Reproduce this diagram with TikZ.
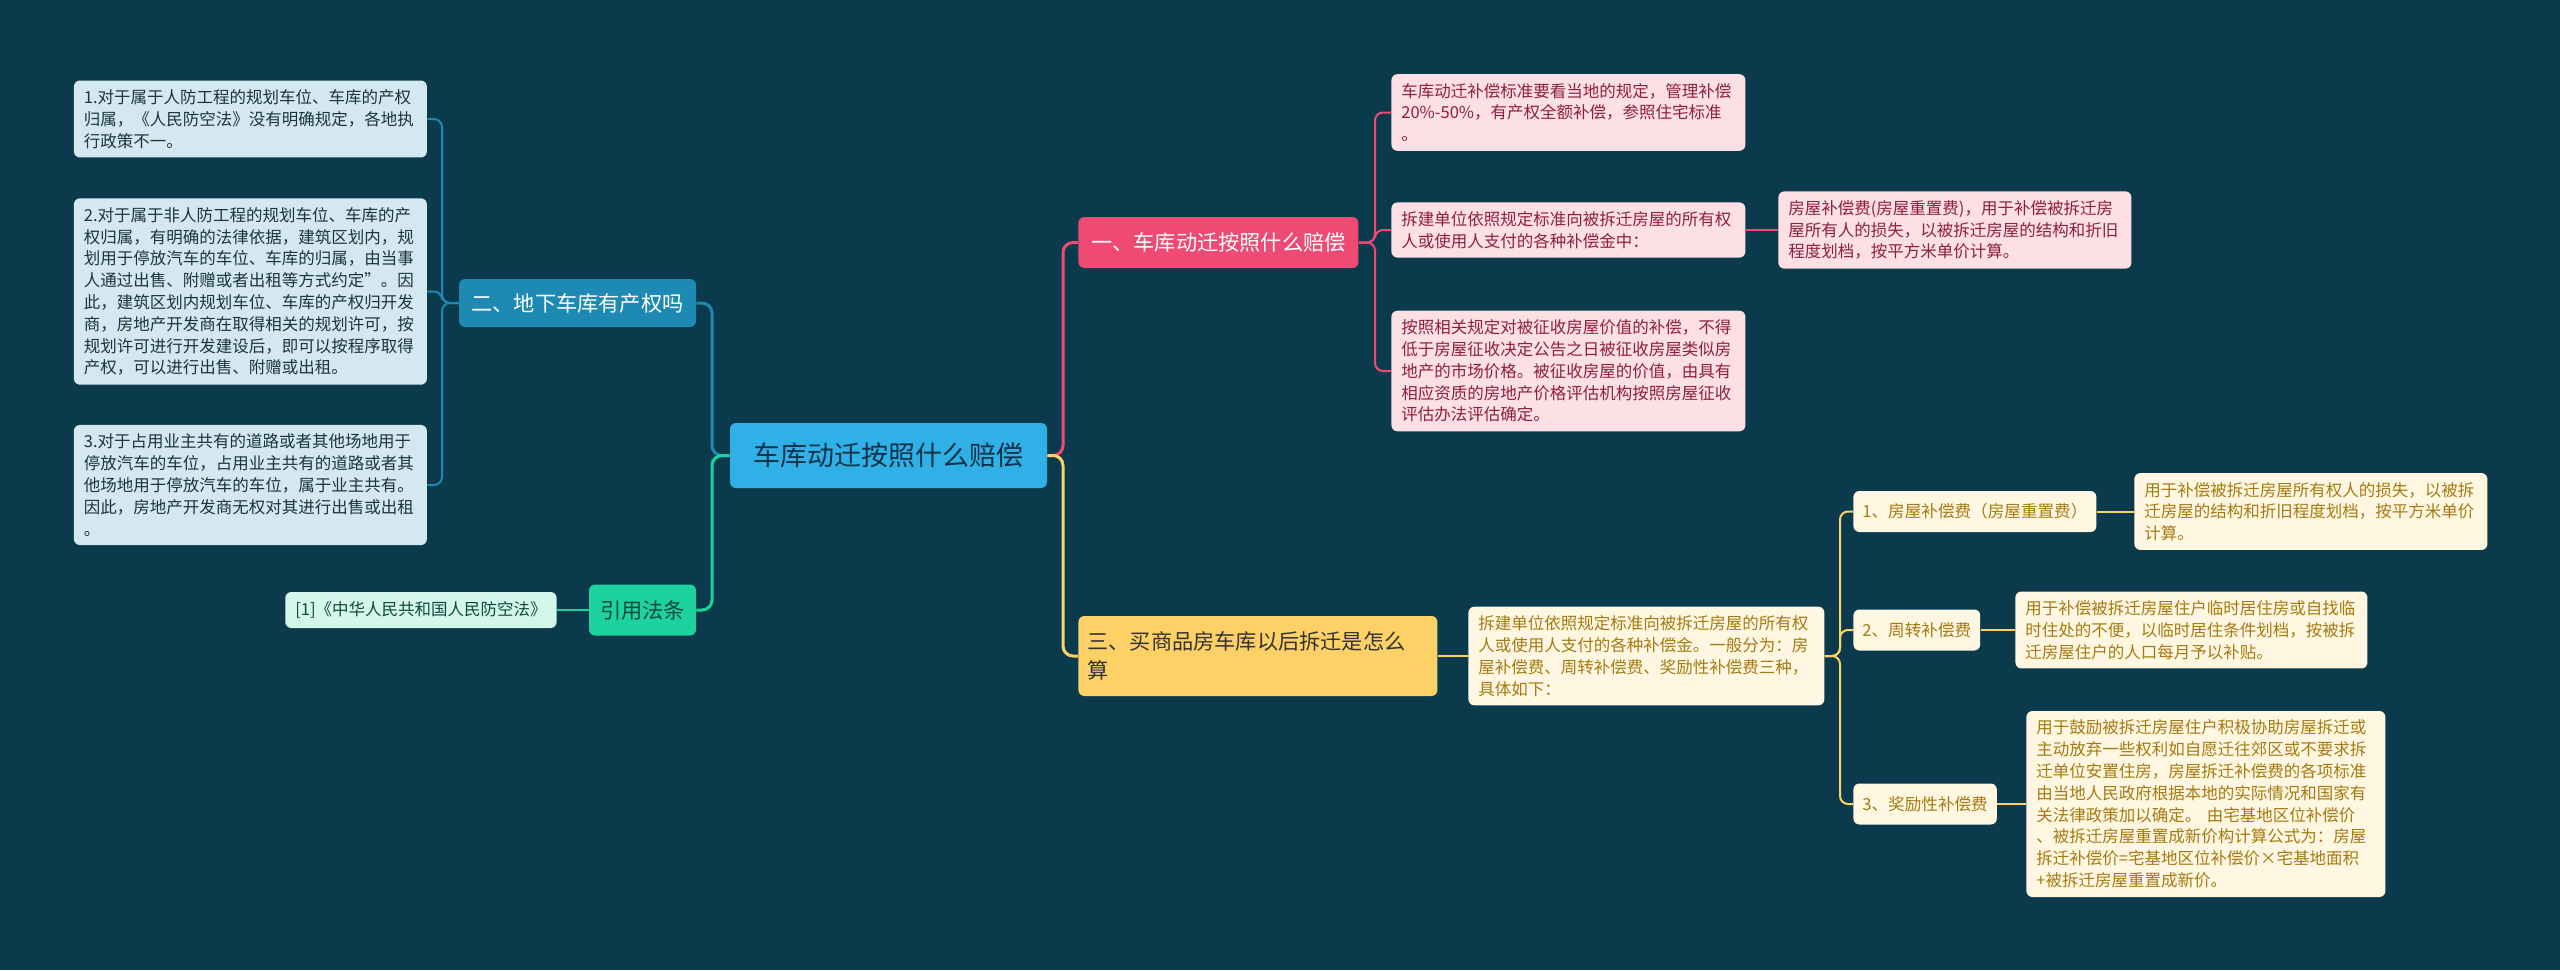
\documentclass[tikz,border=0pt]{standalone}
\usepackage{fontspec}
\setmainfont{Noto Sans CJK SC}
\definecolor{bgc}{HTML}{0A3A4C}
\definecolor{rootc}{HTML}{2FB0E6}
\definecolor{roottxt}{HTML}{0E3348}
\definecolor{bluec}{HTML}{1E8AB3}
\definecolor{blueleaf}{HTML}{D4E8EF}
\definecolor{bluetxt}{HTML}{1A3440}
\definecolor{greenc}{HTML}{1ED2A0}
\definecolor{greenleaf}{HTML}{D5F6EB}
\definecolor{greentxt}{HTML}{0B4A3B}
\definecolor{pinkc}{HTML}{EE4A73}
\definecolor{pinkleaf}{HTML}{FDDFE6}
\definecolor{pinktxt}{HTML}{8E1F40}
\definecolor{yellowc}{HTML}{FDD166}
\definecolor{yellowleaf}{HTML}{FFF7E1}
\definecolor{yellowtxt}{HTML}{A57A12}
\begin{document}
\begin{tikzpicture}[x=0.5pt,y=-0.5pt,
  box/.style={rounded corners=3pt,anchor=west,inner ysep=4.5pt,inner xsep=5pt},
  leaf/.style={box,align=left,font=\fontsize{8.25}{10.9}\selectfont},
  bleaf/.style={leaf,fill=blueleaf,text=bluetxt,text width=166.5pt},
  pleaf/.style={leaf,fill=pinkleaf,text=pinktxt,text width=167pt},
  yleaf/.style={leaf,fill=yellowleaf,text=yellowtxt,text width=167pt},
  ylabel/.style={box,fill=yellowleaf,text=yellowtxt,inner xsep=4.5pt,minimum height=20.5pt,font=\fontsize{8.3}{10}\selectfont},
  topic/.style={box,minimum height=24pt,font=\fontsize{10.6}{14.5}\selectfont},
  link/.style={line width=1pt,rounded corners=4pt},
  mainlink/.style={line width=1.5pt,rounded corners=5pt}]
\fill[bgc] (0,0) rectangle (2560,970);

% centre
\node[box,fill=rootc,text=roottxt,anchor=center,minimum width=158.5pt,minimum height=32.5pt,
  font=\fontsize{13.5}{16}\selectfont] (root) at (888.5,455.5) {车库动迁按照什么赔偿};

% left side
\node[topic,fill=bluec,text=white,anchor=center,minimum width=118.5pt] (two) at (577.5,303) {二、地下车库有产权吗};
\node[topic,fill=greenc,text=greentxt,anchor=center,minimum width=53.5pt,minimum height=25.5pt] (cite) at (642.5,610) {引用法条};
\node[leaf,fill=greenleaf,text=greentxt,anchor=east,minimum height=18pt] (law) at (557,610) {[1]《中华人民共和国人民防空法》};

\node[bleaf] (l1) at (73.5,119) {1.对于属于人防工程的规划车位、车库的产权\\归属，《人民防空法》没有明确规定，各地执\\行政策不一。};
\node[bleaf] (l2) at (73.5,291.5) {2.对于属于非人防工程的规划车位、车库的产\\权归属，有明确的法律依据，建筑区划内，规\\划用于停放汽车的车位、车库的归属，由当事\\人通过出售、附赠或者出租等方式约定”。因\\此，建筑区划内规划车位、车库的产权归开发\\商，房地产开发商在取得相关的规划许可，按\\规划许可进行开发建设后，即可以按程序取得\\产权，可以进行出售、附赠或出租。};
\node[bleaf] (l3) at (73.5,485) {3.对于占用业主共有的道路或者其他场地用于\\停放汽车的车位，占用业主共有的道路或者其\\他场地用于停放汽车的车位，属于业主共有。\\因此，房地产开发商无权对其进行出售或出租\\。};

% right side, pink
\node[topic,fill=pinkc,text=white,minimum width=140pt,minimum height=25.5pt] (one) at (1078,242.5) {一、车库动迁按照什么赔偿};
\node[pleaf] (pa) at (1391,112.5) {车库动迁补偿标准要看当地的规定，管理补偿\\20\%-50\%，有产权全额补偿，参照住宅标准\\。};
\node[pleaf] (pb) at (1391,230) {拆建单位依照规定标准向被拆迁房屋的所有权\\人或使用人支付的各种补偿金中：};
\node[pleaf] (pc) at (1391,371) {按照相关规定对被征收房屋价值的补偿，不得\\低于房屋征收决定公告之日被征收房屋类似房\\地产的市场价格。被征收房屋的价值，由具有\\相应资质的房地产价格评估机构按照房屋征收\\评估办法评估确定。};
\node[pleaf,text width=166.5pt] (pd) at (1778,230) {房屋补偿费(房屋重置费)，用于补偿被拆迁房\\屋所有人的损失，以被拆迁房屋的结构和折旧\\程度划档，按平方米单价计算。};

% right side, yellow
\node[topic,fill=yellowc,text=black!80,align=left,text width=170.5pt,minimum height=40pt,inner xsep=4.5pt] (three) at (1078,656) {三、买商品房车库以后拆迁是怎么\\算};
\node[yleaf,text width=168pt] (yl) at (1468,656) {拆建单位依照规定标准向被拆迁房屋的所有权\\人或使用人支付的各种补偿金。一般分为：房\\屋补偿费、周转补偿费、奖励性补偿费三种，\\具体如下：};
\node[ylabel] (y1) at (1853,511.5) {1、房屋补偿费（房屋重置费）};
\node[ylabel] (y2) at (1853,630) {2、周转补偿费};
\node[ylabel] (y3) at (1853,804) {3、奖励性补偿费};
\node[yleaf,text width=166.5pt] (y1l) at (2134,511.5) {用于补偿被拆迁房屋所有权人的损失，以被拆\\迁房屋的结构和折旧程度划档，按平方米单价\\计算。};
\node[yleaf,text width=166pt] (y2l) at (2015,630) {用于补偿被拆迁房屋住户临时居住房或自找临\\时住处的不便，以临时居住条件划档，按被拆\\迁房屋住户的人口每月予以补贴。};
\node[yleaf,text width=169.5pt] (y3l) at (2026,804) {用于鼓励被拆迁房屋住户积极协助房屋拆迁或\\主动放弃一些权利如自愿迁往郊区或不要求拆\\迁单位安置住房，房屋拆迁补偿费的各项标准\\由当地人民政府根据本地的实际情况和国家有\\关法律政策加以确定。 由宅基地区位补偿价\\、被拆迁房屋重置成新价构计算公式为：房屋\\拆迁补偿价=宅基地区位补偿价×宅基地面积\\+被拆迁房屋重置成新价。};

% buses
\coordinate (lbus) at (712,0);
\coordinate (tbus) at (442,0);
\coordinate (rbus) at (1063,0);
\coordinate (pbus) at (1375,0);
\coordinate (ybus) at (1840,0);

\draw[mainlink,bluec] (root.west) -- (lbus |- root.west) |- (two.east);
\draw[mainlink,greenc] (root.west) -- (lbus |- root.west) |- (cite.east);
\draw[mainlink,pinkc] (root.east) -- (rbus |- root.east) |- (one.west);
\draw[mainlink,yellowc] (root.east) -- (rbus |- root.east) |- (three.west);

\foreach \n in {l1,l2,l3}
  \draw[link,bluec] (two.west) -- (tbus |- two.west) |- (\n.east);
\draw[link,greenc] (cite.west) -- (law.east);

\foreach \n in {pa,pb,pc}
  \draw[link,pinkc] (one.east) -- (pbus |- one.east) |- (\n.west);
\draw[link,pinkc] (pb.east) -- (pd.west);

\draw[link,yellowc] (three.east) -- (yl.west);
\foreach \n in {y1,y2,y3}
  \draw[link,yellowc] (yl.east) -- (ybus |- yl.east) |- (\n.west);
\draw[link,yellowc] (y1.east) -- (y1l.west);
\draw[link,yellowc] (y2.east) -- (y2l.west);
\draw[link,yellowc] (y3.east) -- (y3l.west);
\end{tikzpicture}
\end{document}
